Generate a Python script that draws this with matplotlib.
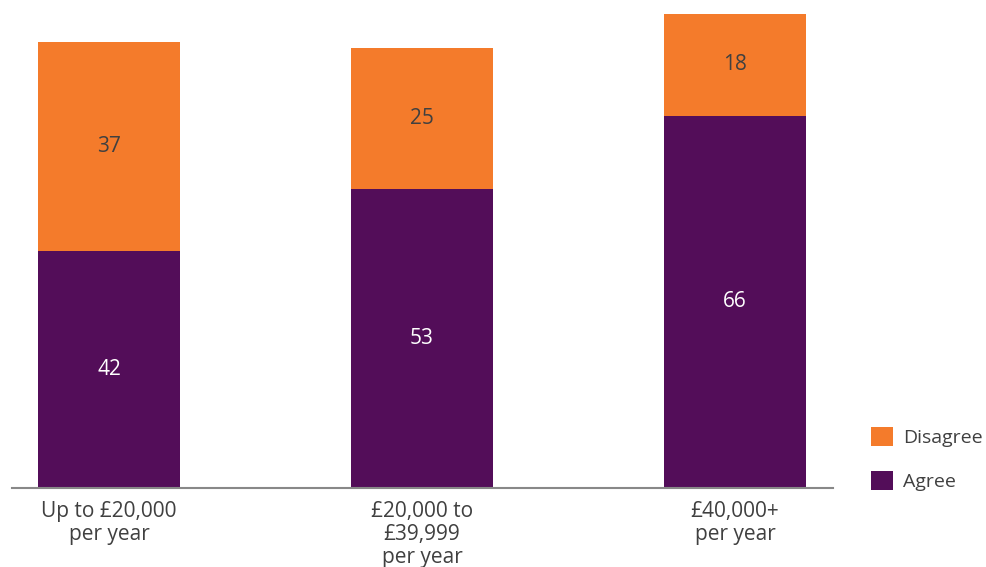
import matplotlib.pyplot as plt

plt.rcParams['font.family'] = ['Open Sans', 'DejaVu Sans']

categories = ["Up to £20,000\nper year", "£20,000 to\n£39,999\nper year", "£40,000+\nper year"]
agree = [42, 53, 66]
disagree = [37, 25, 18]

purple = '#530d59'
orange = '#f47b2b'
text_dark = '#404040'

fig = plt.figure(figsize=(9.86, 5.67), dpi=100)
# axes placed in pixel terms: x from 12 to 833, baseline at y=488, top at y=14
ax = fig.add_axes([12 / 986, (567 - 488) / 567, (833 - 12) / 986, (488 - 14) / 567])

x = range(len(categories))
bw = 0.4537
b1 = ax.bar(x, agree, width=bw, color=purple, label='Agree')
b2 = ax.bar(x, disagree, width=bw, bottom=agree, color=orange, label='Disagree')

for i in x:
    ax.text(i, agree[i] / 2, str(agree[i]), ha='center', va='center',
            color='white', fontsize=15)
    ax.text(i, agree[i] + disagree[i] / 2, str(disagree[i]), ha='center', va='center',
            color=text_dark, fontsize=15)

ax.set_xlim(-0.31, 2.313)
ax.set_ylim(0, 84)

ax.set_xticks(list(x))
ax.set_xticklabels(categories, fontsize=15, color=text_dark, linespacing=1.15)
ax.tick_params(axis='x', length=0, pad=9)
ax.set_yticks([])

for s in ['top', 'right', 'left']:
    ax.spines[s].set_visible(False)
ax.spines['bottom'].set_color('#888888')
ax.spines['bottom'].set_linewidth(1.5)

leg = fig.legend(handles=[b2, b1], labels=['Disagree', 'Agree'],
                 loc='lower left', bbox_to_anchor=(871 / 986, (567 - 491) / 567),
                 frameon=False, fontsize=14, handlelength=1.15, handleheight=1.15,
                 handletextpad=0.5, labelspacing=1.2, borderpad=0, borderaxespad=0,
                 labelcolor=text_dark)

fig.savefig('out.png', dpi=100)
